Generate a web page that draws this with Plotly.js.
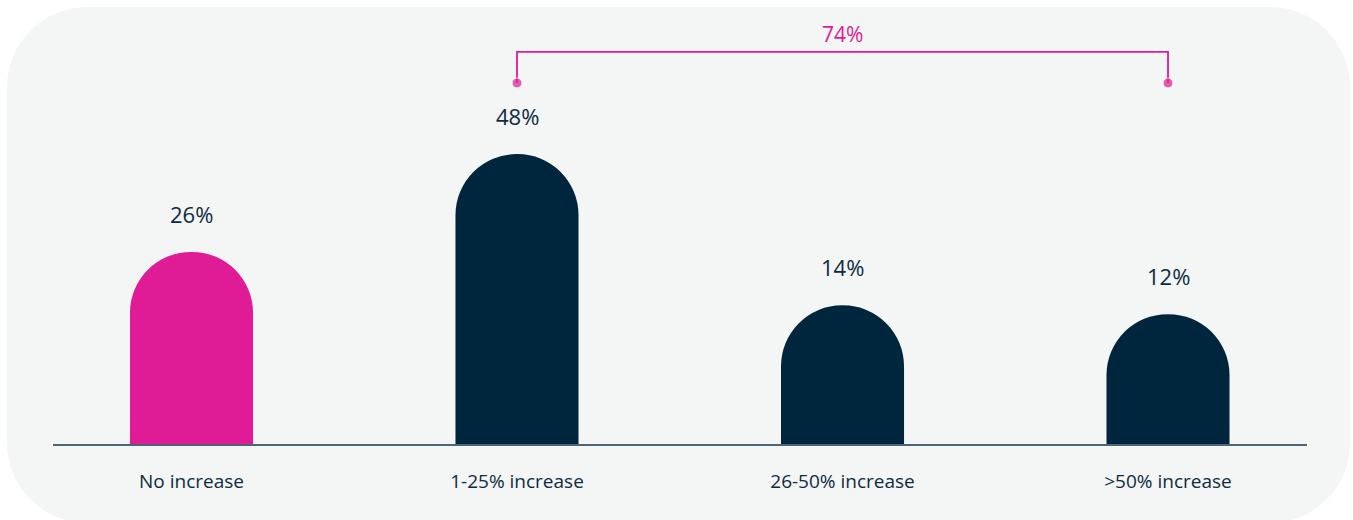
<!DOCTYPE html>
<html>
<head>
<meta charset="utf-8">
<script src="https://cdn.plot.ly/plotly-3.0.1.min.js"></script>
<style>
  html, body { margin: 0; padding: 0; background: #ffffff; }
  #panel { position: absolute; left: 7px; top: 7px; width: 1343px; height: 516px;
           background: #f4f5f5; border-radius: 80px; }
  #chart { position: absolute; left: 0; top: 0; width: 1353px; height: 520px; }
</style>
</head>
<body>
<div id="panel"></div>
<div id="chart"></div>
<script>
// ---- data ----
const categories = ["No increase", "1-25% increase", "26-50% increase", ">50% increase"];
const values = [26, 48, 14, 12];
const valueLabels = ["26%", "48%", "14%", "12%"];
const bracketLabel = "74%";

// ---- style ----
const PINK = "#df1b96";
const NAVY = "#00263d";
const TEXT = "#0d2b42";
const FONT = "Open Sans, sans-serif";
const STEM = 17.2;          // visual minimum stem of each pill bar (axis units)
const PX_PER_UNIT = 4.446;  // vertical scale
const PLOT_H = 424;
const yTop = PLOT_H / PX_PER_UNIT;
const BR_LOW = 81.2, BR_HIGH = 88.2;

const barColors = values.map((v, i) => i === 0 ? PINK : NAVY);

const bars = {
  type: "bar",
  x: categories,
  y: values.map(v => v + STEM),
  customdata: values,
  hovertemplate: "%{x}: %{customdata}%<extra></extra>",
  marker: { color: barColors, line: { width: 0 } },
  showlegend: false
};

const bracket = {
  type: "scatter",
  mode: "lines+markers",
  x: [categories[1], categories[1], categories[3], categories[3]],
  y: [BR_LOW, BR_HIGH, BR_HIGH, BR_LOW],
  line: { color: PINK, width: 1.8 },
  marker: { color: PINK, size: [10, 0, 0, 10] },
  hoverinfo: "skip",
  showlegend: false,
  cliponaxis: false
};

const annotations = categories.map((c, i) => ({
  x: c, y: values[i] + STEM, xref: "x", yref: "y",
  text: valueLabels[i], showarrow: false,
  yanchor: "bottom", yshift: 21,
  font: { family: FONT, size: 22, color: TEXT }
}));
annotations.push({
  x: categories[2], y: BR_HIGH, xref: "x", yref: "y",
  text: bracketLabel, showarrow: false, yanchor: "bottom", yshift: 2,
  font: { family: FONT, size: 21, color: PINK }
});

const layout = {
  width: 1353, height: 520,
  margin: { l: 53, r: 46, t: 20, b: 76 },
  paper_bgcolor: "rgba(0,0,0,0)",
  plot_bgcolor: "rgba(0,0,0,0)",
  bargap: 0.622,
  barcornerradius: "50%",
  xaxis: {
    type: "category",
    range: [-0.4255, 3.427],
    showgrid: false, zeroline: false,
    showline: true, linecolor: "#4d6578", linewidth: 2,
    ticks: "outside", ticklen: 19, tickcolor: "rgba(0,0,0,0)",
    tickfont: { family: FONT, size: 19, color: TEXT },
    fixedrange: true
  },
  yaxis: {
    range: [0, yTop],
    visible: false, showgrid: false, zeroline: false,
    fixedrange: true
  },
  annotations: annotations,
  showlegend: false
};

Plotly.newPlot("chart", [bars, bracket], layout, { displayModeBar: false, staticPlot: true });
</script>
</body>
</html>
